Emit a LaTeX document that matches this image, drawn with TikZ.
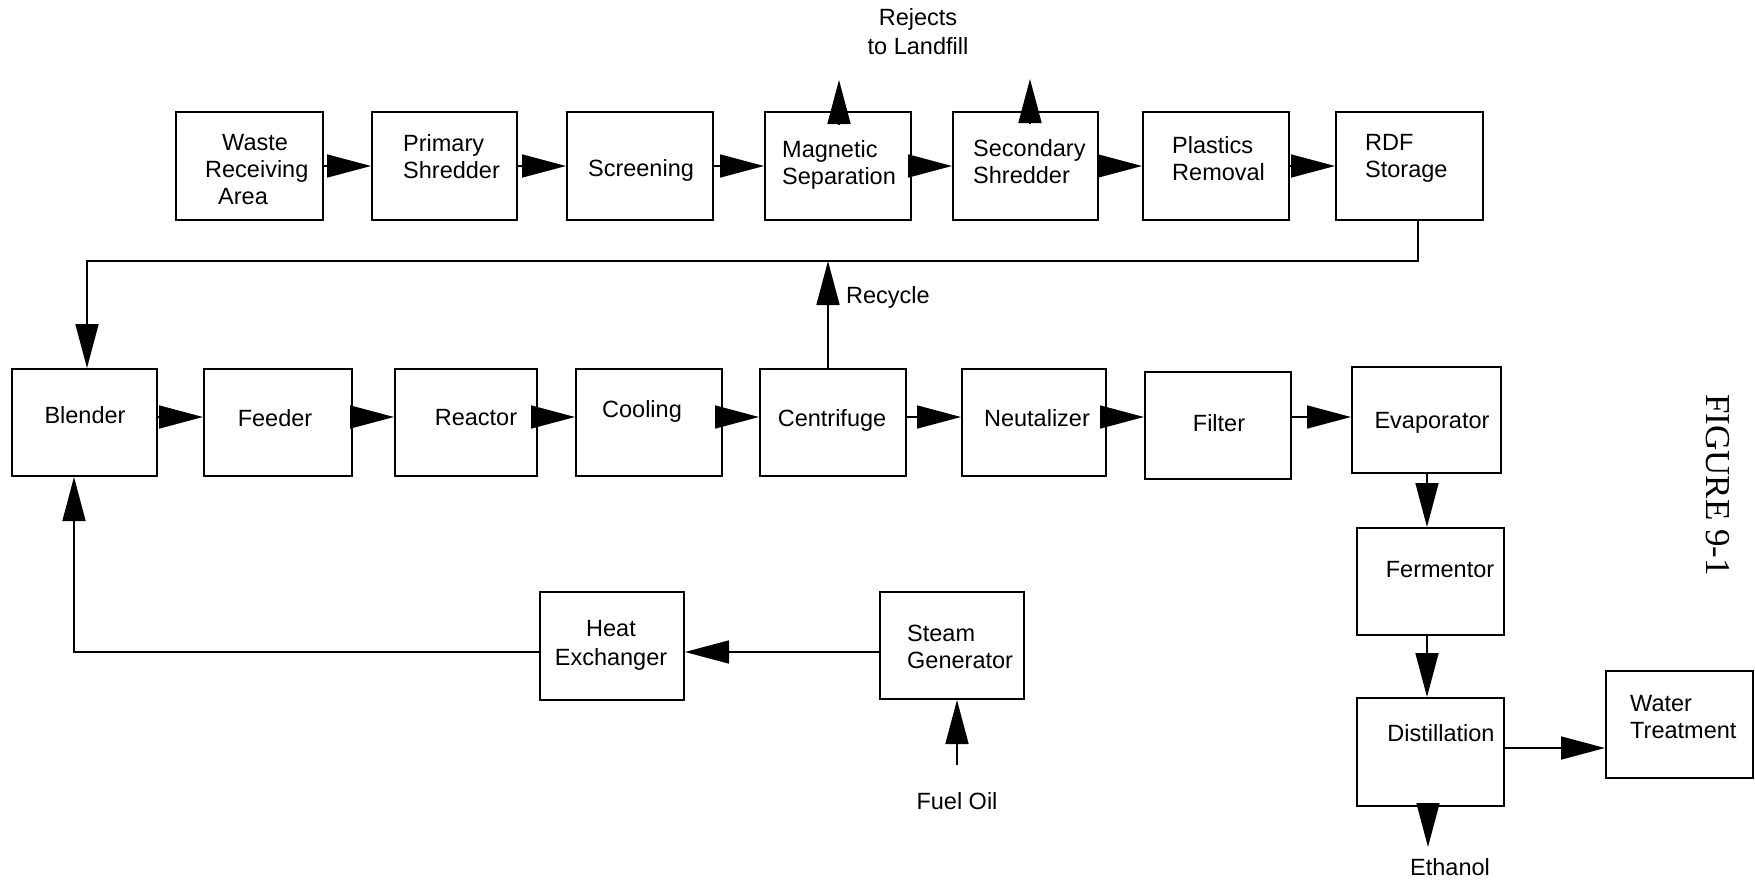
\documentclass[tikz,border=0pt]{standalone}
\usepackage{fontspec}
\setmainfont{Liberation Sans}
\newfontfamily\figfont{Liberation Serif}
\usetikzlibrary{arrows.meta}

\begin{document}
\begin{tikzpicture}[x=1pt,y=-1pt,
  box/.style={draw, line width=2pt, inner sep=0pt},
  txt/.style={font=\fontsize{23.5}{27}\selectfont, inner sep=0pt},
  lnk/.style={line width=1.6pt},
  flow/.style={line width=1.6pt, -{Triangle[length=44pt,width=23pt]}}]

\useasboundingbox (0,0) rectangle (1755,884);

% ---- preparation line ----
\node[box, minimum width=147pt, minimum height=108pt] (waste)   at (249.5,166) {};
\node[box, minimum width=145pt, minimum height=108pt] (primary) at (444.5,166) {};
\node[box, minimum width=146pt, minimum height=108pt] (screen)  at (640,166) {};
\node[box, minimum width=146pt, minimum height=108pt] (mag)     at (838,166) {};
\node[box, minimum width=145pt, minimum height=108pt] (sec)     at (1025.5,166) {};
\node[box, minimum width=146pt, minimum height=108pt] (plast)   at (1216,166) {};
\node[box, minimum width=147pt, minimum height=108pt] (rdf)     at (1409.5,166) {};

\node[txt, anchor=west, align=left] (waste-t) at (205,170) {\hspace*{17pt}Waste\\Receiving\\\hspace*{13pt}Area};
\node[txt, anchor=west, align=left] (primary-t) at (403,157) {Primary\\Shredder};
\node[txt] (screen-t) at (641,170) {Screening};
\node[txt, anchor=west, align=left] (mag-t) at (782,165) {Magnetic\\Separation};
\node[txt, anchor=west, align=left] (sec-t) at (973,161.5) {Secondary\\Shredder};
\node[txt, anchor=west, align=left] (plast-t) at (1172,158.5) {Plastics\\Removal};
\node[txt, anchor=west, align=left] (rdf-t) at (1365,158.5) {RDF\\Storage};

\node[txt, align=center] (rejects) at (918,32) {Rejects\\[2pt]to Landfill};

\draw[flow] (waste.east) -- (primary.west);
\draw[flow] (primary.east) -- (screen.west);
\draw[flow] (screen.east) -- (mag.west);
\draw[flow] (mag.east) -- (sec.west);
\draw[flow] (sec.east) -- (plast.west);
\draw[flow] (plast.east) -- (rdf.west);

\coordinate (rj1) at (839,80);
\coordinate (rj2) at (1030,79);
\draw[flow] ([yshift=-13pt]mag.north -| rj1) -- (rj1);
\draw[flow] ([yshift=-13pt]sec.north -| rj2) -- (rj2);

% ---- conversion line ----
\node[box, minimum width=145pt, minimum height=107pt] (blender) at (84.5,422.5) {};
\node[box, minimum width=148pt, minimum height=107pt] (feeder)  at (278,422.5) {};
\node[box, minimum width=142pt, minimum height=107pt] (reactor) at (466,422.5) {};
\node[box, minimum width=146pt, minimum height=107pt] (cool)    at (649,422.5) {};
\node[box, minimum width=146pt, minimum height=107pt] (centri)  at (833,422.5) {};
\node[box, minimum width=144pt, minimum height=107pt] (neut)    at (1034,422) {};
\node[box, minimum width=146pt, minimum height=107pt] (filter)  at (1218,425.5) {};
\node[box, minimum width=149pt, minimum height=106pt] (evap)    at (1426.5,420) {};

\node[txt] (blender-t) at (85,415) {Blender};
\node[txt] (feeder-t)  at (275,418) {Feeder};
\node[txt] (reactor-t) at (476,418) {Reactor};
\node[txt] (cool-t)    at (642,411) {Cooling};
\node[txt] (centri-t)  at (832,420) {Centrifuge};
\node[txt] (neut-t)    at (1037,418) {Neutalizer};
\node[txt] (filter-t)  at (1219,423) {Filter};
\node[txt] (evap-t)    at (1432,423) {Evaporator};

\coordinate (r2) at (0,417);
\draw[flow] (blender.east |- r2) -- (feeder.west |- r2);
\draw[flow] (feeder.east |- r2) -- (reactor.west |- r2);
\draw[flow] (reactor.east |- r2) -- (cool.west |- r2);
\draw[flow] (cool.east |- r2) -- (centri.west |- r2);
\draw[flow] (centri.east |- r2) -- (neut.west |- r2);
\draw[flow] (neut.east |- r2) -- (filter.west |- r2);
\draw[flow] (filter.east |- r2) -- (evap.west |- r2);

% recycle loop and feed from storage
\coordinate (loop) at (828,261);
\draw[flow] (centri.north -| loop) -- (loop);
\node[txt, anchor=west] (recycle) at (846,297) {Recycle};
\draw[flow] ([xshift=8.5pt]rdf.south) |- ([xshift=2.5pt]blender.north |- loop) -- ([xshift=2.5pt]blender.north);

% ---- steam supply ----
\node[box, minimum width=144pt, minimum height=108pt] (heat)  at (612,646) {};
\node[box, minimum width=144pt, minimum height=107pt] (steam) at (952,645.5) {};
\node[txt, align=center] (heat-t) at (611,645) {Heat\\[2pt]Exchanger};
\node[txt, anchor=west, align=left] (steam-t) at (907,647) {Steam\\Generator};

\coordinate (hy) at (0,652);
\draw[flow] (steam.west |- hy) -- (heat.east |- hy);
\draw[flow] (heat.west |- hy) -| ([xshift=-10.5pt]blender.south);

\coordinate (fuel) at (957,765);
\draw[flow] (fuel) -- (fuel |- steam.south);
\node[txt] (fuel-t) at (957,801) {Fuel Oil};

% ---- product recovery ----
\node[box, minimum width=147pt, minimum height=107pt] (ferm)  at (1430.5,581.5) {};
\node[box, minimum width=147pt, minimum height=108pt] (dist)  at (1430.5,752) {};
\node[box, minimum width=147pt, minimum height=107pt] (water) at (1679.5,724.5) {};

\node[txt] (ferm-t) at (1440,570) {Fermentor};
\node[txt] (dist-t) at (1441,733) {Distillation};
\node[txt, anchor=west, align=left] (water-t) at (1630,717.5) {Water\\Treatment};

\coordinate (col) at (1427,0);
\draw[flow] (evap.south -| col) -- (ferm.north -| col);
\draw[flow] (ferm.south -| col) -- (dist.north -| col);

\coordinate (eth) at (1428,847);
\draw[flow] (dist.south -| eth) -- (eth);
\node[txt] (eth-t) at (1450,867) {Ethanol};

\coordinate (wy) at (0,748);
\draw[flow] (dist.east |- wy) -- (water.west |- wy);

% ---- caption ----
\node[rotate=-90, inner sep=0pt, font=\figfont\fontsize{35}{40}\selectfont] (caption) at (1718,485) {FIGURE 9-1};

\end{tikzpicture}
\end{document}
